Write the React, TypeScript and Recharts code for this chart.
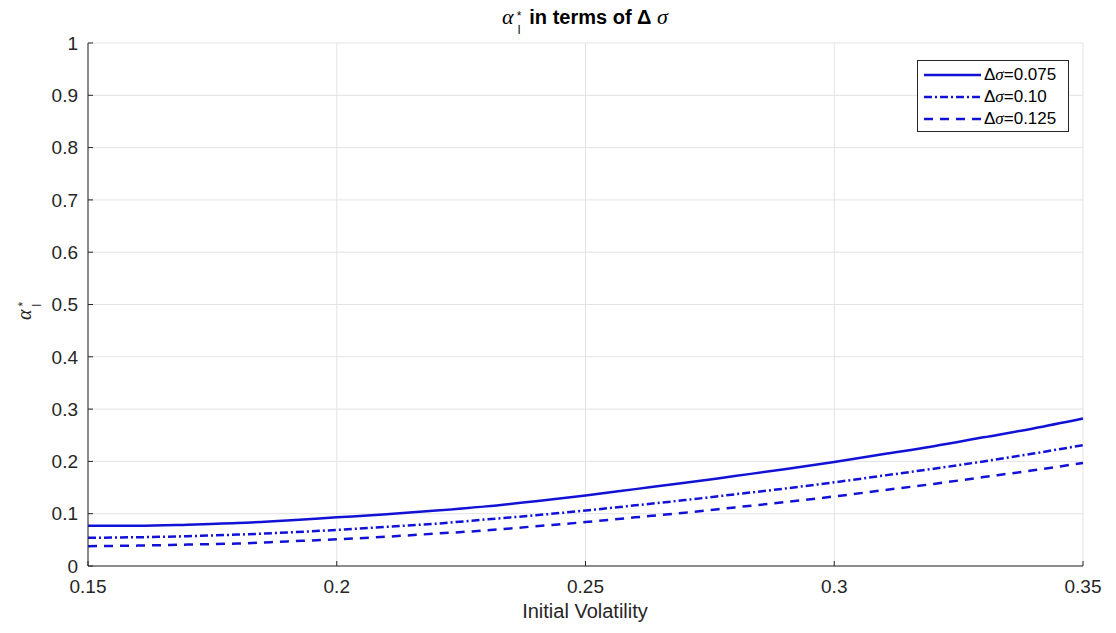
import React from "react"
import { LineChart, Line, XAxis, YAxis, CartesianGrid } from "recharts"

const volatility = [
  0.15, 0.16, 0.17, 0.18, 0.19, 0.2, 0.21, 0.22, 0.23, 0.24, 0.25, 0.26, 0.27, 0.28, 0.29, 0.3, 0.31,
  0.32, 0.33, 0.34, 0.35,
]
const alpha075 = [
  0.077, 0.077, 0.079, 0.082, 0.087, 0.093, 0.099, 0.106, 0.114, 0.124, 0.135, 0.147, 0.159, 0.172,
  0.185, 0.199, 0.214, 0.229, 0.246, 0.263, 0.282,
]
const alpha10 = [
  0.054, 0.055, 0.057, 0.06, 0.064, 0.069, 0.075, 0.081, 0.089, 0.097, 0.106, 0.116, 0.126, 0.137,
  0.148, 0.16, 0.173, 0.186, 0.2, 0.215, 0.231,
]
const alpha125 = [
  0.038, 0.039, 0.041, 0.043, 0.047, 0.051, 0.056, 0.062, 0.068, 0.076, 0.084, 0.093, 0.102, 0.112,
  0.122, 0.133, 0.145, 0.157, 0.17, 0.183, 0.197,
]
const xTicks = [0.15, 0.2, 0.25, 0.3, 0.35]
const yTicks = [0, 0.1, 0.2, 0.3, 0.4, 0.5, 0.6, 0.7, 0.8, 0.9, 1]

const series = [
  { key: "a075", name: "0.075", dash: undefined as string | undefined },
  { key: "a10", name: "0.10", dash: "8 3 2 3" },
  { key: "a125", name: "0.125", dash: "9 7" },
]

const data = volatility.map((v, i) => ({
  v,
  a075: alpha075[i],
  a10: alpha10[i],
  a125: alpha125[i],
}))

const BLUE = "#1212d6"
const TEXT = "#262626"
const FONT = "'Liberation Sans', Arial, Helvetica, sans-serif"
const SERIF = "'Liberation Serif', 'DejaVu Serif', serif"

// plot box: x 88..1083, y 43..566
const PLOT_MID = 585

// alpha with * superscript and l subscript, stacked
function AlphaStar({ size, color }: { size: number; color: string }) {
  return (
    <span style={{ color, whiteSpace: "nowrap" }}>
      <span style={{ fontFamily: SERIF, fontStyle: "italic", fontWeight: "normal", fontSize: size }}>α</span>
      <span
        style={{
          display: "inline-flex",
          flexDirection: "column",
          verticalAlign: "middle",
          fontSize: 12,
          lineHeight: "14px",
          marginLeft: 3,
          marginTop: 8,
          fontWeight: "normal",
        }}
      >
        <span style={{ height: 14 }}>*</span>
        <span style={{ height: 14 }}>l</span>
      </span>
    </span>
  )
}

function LegendBox() {
  return (
    <div
      style={{
        position: "absolute",
        left: 917,
        top: 60,
        border: "1px solid #262626",
        background: "#fff",
        width: 152,
        height: 72,
        padding: "3px 0",
        boxSizing: "border-box",
        fontFamily: FONT,
        fontSize: 17,
        color: "#000",
      }}
    >
      {series.map((s) => (
        <div key={s.key} style={{ display: "flex", alignItems: "center", height: 22 }}>
          <svg width={62} height={10} style={{ marginLeft: 4, flex: "none" }}>
            <line x1={2} y1={5} x2={59} y2={5} stroke={BLUE} strokeWidth={2.5} strokeDasharray={s.dash} />
          </svg>
          <span style={{ whiteSpace: "nowrap" }}>
            Δ<i style={{ fontFamily: SERIF }}>σ</i>={s.name}
          </span>
        </div>
      ))}
    </div>
  )
}

export default function App() {
  return (
    <div style={{ position: "absolute", left: 0, top: 0, width: 1116, height: 633, background: "#fff" }}>
      <div
        style={{
          position: "absolute",
          top: 1,
          left: PLOT_MID - 300,
          width: 600,
          textAlign: "center",
          fontFamily: FONT,
          fontWeight: "bold",
          fontSize: 20,
          color: "#000",
          whiteSpace: "nowrap",
        }}
      >
        <AlphaStar size={22} color="#000" />
        <span style={{ marginLeft: 8 }}>in terms of Δ </span>
        <span style={{ fontFamily: SERIF, fontStyle: "italic", fontWeight: "normal", fontSize: 22 }}>σ</span>
      </div>
      <div
        style={{
          position: "absolute",
          left: 26,
          top: 311,
          transform: "translate(-50%, -50%) rotate(-90deg)",
          fontFamily: FONT,
          fontSize: 20,
        }}
      >
        <AlphaStar size={20} color={TEXT} />
      </div>
      <div
        style={{
          position: "absolute",
          top: 600,
          left: PLOT_MID - 200,
          width: 400,
          textAlign: "center",
          fontFamily: FONT,
          fontSize: 20,
          color: TEXT,
        }}
      >
        Initial Volatility
      </div>
      <LineChart width={1116} height={633} data={data} margin={{ top: 43, right: 33, bottom: 37, left: 28 }}>
        <CartesianGrid stroke="#e3e3e3" strokeWidth={1} />
        <XAxis
          dataKey="v"
          type="number"
          domain={[0.15, 0.35]}
          ticks={xTicks}
          height={30}
          stroke={TEXT}
          tickSize={-5}
          tickMargin={19}
          tick={{ fill: TEXT, fontSize: 19, fontFamily: FONT }}
        />
        <YAxis
          type="number"
          domain={[0, 1]}
          ticks={yTicks}
          width={60}
          stroke={TEXT}
          tickSize={-5}
          tickMargin={15}
          tick={{ fill: TEXT, fontSize: 19, fontFamily: FONT }}
        />
        {series.map((s) => (
          <Line
            key={s.key}
            dataKey={s.key}
            name={s.name}
            type="monotone"
            stroke={BLUE}
            strokeWidth={2.5}
            strokeDasharray={s.dash}
            dot={false}
            isAnimationActive={false}
          />
        ))}
      </LineChart>
      <LegendBox />
    </div>
  )
}
